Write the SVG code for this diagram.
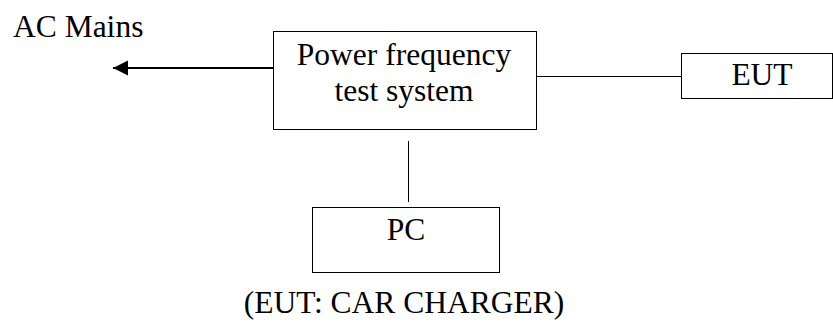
<svg xmlns="http://www.w3.org/2000/svg" width="833" height="324" viewBox="0 0 833 324">
<style>
.box{fill:#fff;stroke:#000;stroke-width:1}
.ln{stroke:#000;stroke-width:1;fill:none}
text{font-family:"Liberation Serif","Times New Roman",serif;font-size:31.5px;fill:#000}
.c{text-anchor:middle}
</style>
<defs>
<marker id="ah" markerUnits="userSpaceOnUse" markerWidth="16" markerHeight="16" refX="15" refY="7.5" orient="auto">
<path d="M0,0 L15,7.5 L0,15 Z" fill="#000"/>
</marker>
</defs>
<rect width="833" height="324" fill="#fff"/>
<g id="connectors">
<line x1="273" y1="68" x2="113" y2="68" stroke="#000" stroke-width="2" marker-end="url(#ah)"/>
<line class="ln" x1="537" y1="76.5" x2="681" y2="76.5"/>
<line class="ln" x1="408.5" y1="141" x2="408.5" y2="202"/>
</g>
<g id="ac-mains">
<text x="13" y="37">AC Mains</text>
</g>
<g id="power-system">
<rect class="box" x="273.5" y="31.5" width="263" height="98"/>
<text class="c" x="404" y="65">Power frequency</text>
<text class="c" x="404" y="101">test system</text>
</g>
<g id="eut">
<rect class="box" x="681.5" y="53.5" width="151" height="45"/>
<text class="c" x="762" y="85">EUT</text>
</g>
<g id="pc">
<rect class="box" x="312.5" y="207.5" width="187" height="65"/>
<text class="c" x="406" y="240">PC</text>
</g>
<g id="caption">
<text class="c" x="404" y="313">(EUT: CAR CHARGER)</text>
</g>
</svg>
